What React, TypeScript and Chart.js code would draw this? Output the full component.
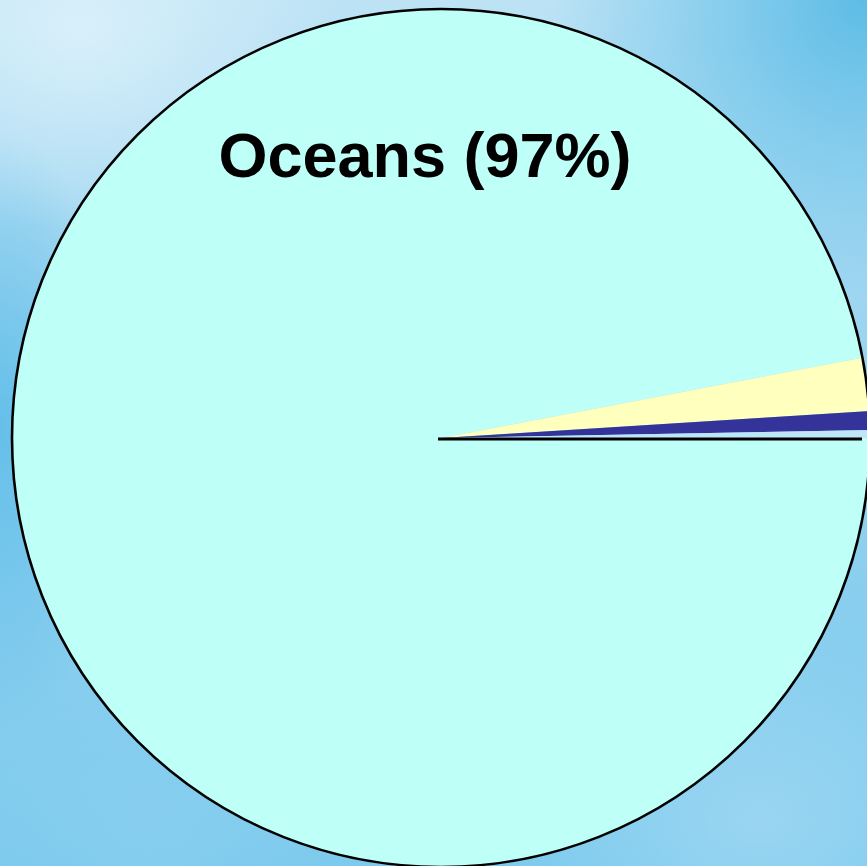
import React, { useEffect, useRef } from 'react';
import { Chart, registerables } from 'chart.js';

Chart.register(...registerables);

// Share of the Earth's water, in percent
const categories = ['Oceans', 'Ice caps and glaciers', 'Groundwater', 'Other fresh water'];
const shares = [97, 2, 0.7, 0.3];
const sliceColors = ['#BEFFF8', '#FFFFBE', '#333399', '#BEE6F8'];
const headline = `${categories[0]} (${shares[0]}%)`;

// Outline of the whole pie, the edge line of the first slice, and the headline text
const pieDecor = {
  id: 'pieDecor',
  afterDatasetsDraw(chart: any) {
    const meta = chart.getDatasetMeta(0);
    const arc = meta.data[0];
    if (!arc) return;
    const { x, y, outerRadius, startAngle } = arc.getProps(
      ['x', 'y', 'outerRadius', 'startAngle'],
      true
    );
    const ctx = chart.ctx as CanvasRenderingContext2D;
    ctx.save();

    ctx.beginPath();
    ctx.arc(x, y, outerRadius - 1, 0, Math.PI * 2);
    ctx.lineWidth = 2.6;
    ctx.strokeStyle = '#000';
    ctx.stroke();

    ctx.beginPath();
    ctx.moveTo(x - 3, y + 1);
    const len = outerRadius - 9;
    ctx.lineTo(x + Math.cos(startAngle) * len, y + 1 + Math.sin(startAngle) * len);
    ctx.lineWidth = 3;
    ctx.stroke();

    ctx.fillStyle = '#000';
    ctx.font = 'bold 63px "Liberation Sans", Arial, sans-serif';
    ctx.textAlign = 'center';
    ctx.textBaseline = 'alphabetic';
    ctx.fillText(headline, x - 16, y - 261);
    ctx.restore();
  },
};

export default function App() {
  const canvasRef = useRef<HTMLCanvasElement | null>(null);

  useEffect(() => {
    if (!canvasRef.current) return;
    const chart = new Chart(canvasRef.current, {
      type: 'pie',
      data: {
        labels: categories,
        datasets: [
          {
            data: shares,
            backgroundColor: sliceColors,
            borderWidth: 0,
            hoverOffset: 0,
          },
        ],
      },
      options: {
        responsive: false,
        animation: false,
        rotation: 90,
        layout: { padding: { left: 11, top: 8, right: 0, bottom: 0 } },
        plugins: {
          legend: { display: false },
          tooltip: { enabled: false },
          title: { display: false },
        },
        events: [],
      },
      plugins: [pieDecor],
    });
    return () => chart.destroy();
  }, []);

  const sky = [
    'radial-gradient(ellipse 260px 200px at 80px 30px, rgba(226,244,252,0.75), rgba(226,244,252,0) 100%)',
    'radial-gradient(ellipse 320px 300px at 867px 0px, rgba(82,184,229,0.9), rgba(82,184,229,0) 100%)',
    'radial-gradient(ellipse 120px 300px at 0px 430px, rgba(92,188,232,0.85), rgba(92,188,232,0) 100%)',
    'radial-gradient(ellipse 260px 200px at 760px 820px, rgba(160,216,243,0.8), rgba(160,216,243,0) 100%)',
    'radial-gradient(ellipse 200px 150px at 150px 820px, rgba(140,208,240,0.6), rgba(140,208,240,0) 100%)',
    'linear-gradient(to bottom, #bde3f5 0%, #95d2f0 45%, #7ccaed 100%)',
  ].join(', ');

  return (
    <div
      style={{
        position: 'fixed',
        left: 0,
        top: 0,
        width: 867,
        height: 866,
        overflow: 'hidden',
        background: sky,
      }}
    >
      <canvas
        ref={canvasRef}
        width={871}
        height={868}
        style={{ position: 'absolute', left: 0, top: 0, display: 'block' }}
      />
    </div>
  );
}
